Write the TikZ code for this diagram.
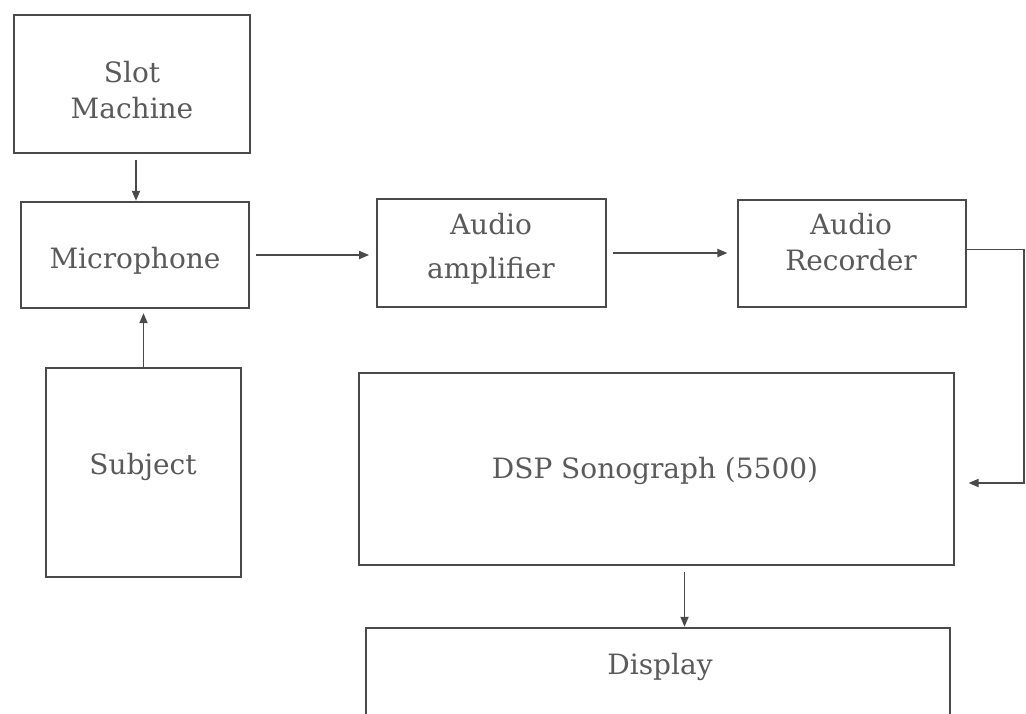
\documentclass[tikz,border=0pt]{standalone}
\usepackage{fontspec}
\setmainfont{DejaVu Serif}
\usetikzlibrary{arrows.meta,fit,calc}
\definecolor{linegray}{HTML}{4A4A4A}
\definecolor{textgray}{HTML}{5A5A5A}
\begin{document}
\begin{tikzpicture}[x=0.75pt,y=-0.75pt,
  box/.style={draw=linegray,line width=1.8pt,inner sep=0pt},
  lbl/.style={text=textgray,font=\fontsize{21}{27.5}\selectfont,align=center,inner sep=0pt},
  arr/.style={draw=linegray,line width=1.35pt,-{Triangle[length=7.5pt,width=6pt]}}]
\fill[white] (0,0) rectangle (1026,714);
\useasboundingbox (0,0) rectangle (1026,714);

% blocks
\node[box, fit={(14,15) (250,153)}] (slot) {};
\node[box, fit={(21,202) (249,308)}] (mic) {};
\node[box, fit={(46,368) (241,577)}] (subj) {};
\node[box, fit={(377,199) (606,307)}] (amp) {};
\node[box, fit={(738,200) (966,307)}] (rec) {};
\node[box, fit={(359,373) (954,565)}] (dsp) {};
\begin{scope}
  \clip (0,0) rectangle (1026,714);
  \node[box, fit={(366,628) (950,740)}] (disp) {};
\end{scope}

% labels
\node[lbl] (tslot) at (132,90) {Slot\\Machine};
\node[lbl] (tmic) at (135,261) {Microphone};
\node[lbl, font=\fontsize{21}{33}\selectfont] (tamp) at (491,249) {Audio\\amplifier};
\node[lbl] (trec) at (851,242) {Audio\\Recorder};
\node[lbl] (tsubj) at (143,467) {Subject};
\node[lbl] (tdsp) at (655,471) {DSP Sonograph (5500)};
\node[lbl] (tdisp) at (660,667) {Display};

% signal flow
\draw[arr, shorten <=4pt] ([xshift=3pt]slot.south) -- ([xshift=3pt]slot.south |- mic.north);
\draw[arr, shorten >=3pt] (subj.north) -- (subj.north |- mic.south);
\draw[arr, shorten <=4pt, shorten >=5pt] (mic.east) -- (mic.east -| amp.west);
\draw[arr, shorten <=4pt, shorten >=7pt] (amp.east) -- (amp.east -| rec.west);
\coordinate (bend) at (1024,483);
\draw[arr, shorten >=10pt] ([yshift=3pt]rec.east) -| (bend) -- (dsp.east |- bend);
\draw[arr, shorten <=4pt] ([xshift=21pt]dsp.south) -- ([xshift=21pt]dsp.south |- disp.north);
\end{tikzpicture}
\end{document}
